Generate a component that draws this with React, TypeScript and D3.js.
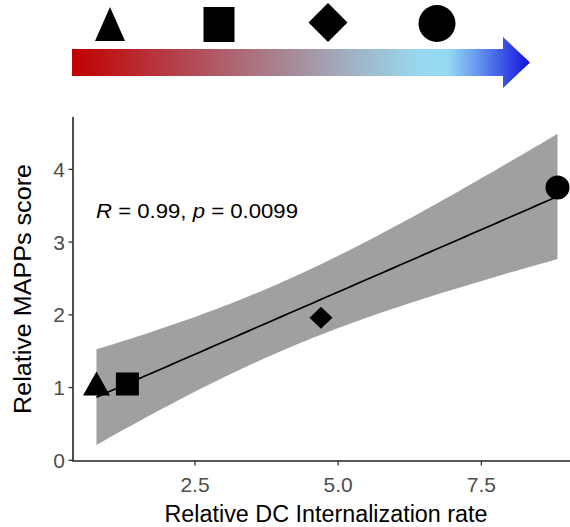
import React from "react";
import * as d3 from "d3";

// ---- data ----
const shapes = ["triangle", "square", "diamond", "circle"];
const dcRate = [0.78, 1.32, 4.7, 8.83];
const mappsScore = [1.0, 1.05, 1.96, 3.75];
const xTicks = [2.5, 5.0, 7.5];
const yTicks = [0, 1, 2, 3, 4];
const rValue = "0.99";
const pValue = "0.0099";
const xTitle = "Relative DC Internalization rate";
const yTitle = "Relative MAPPs score";
const T_975_DF2 = 4.302653; // t quantile, 95% CI with n-2 = 2 df

const W = 570;
const H = 527;
const FONT = "'Liberation Sans', Arial, Helvetica, sans-serif";

function shapePath(kind: string, cx: number, cy: number, w: number, h: number) {
  if (kind === "triangle") {
    return `M${cx},${cy - h * (2 / 3)}L${cx + w / 2},${cy + h / 3}L${cx - w / 2},${cy + h / 3}Z`;
  }
  if (kind === "square") {
    return `M${cx - w / 2},${cy - h / 2}h${w}v${h}h${-w}Z`;
  }
  if (kind === "diamond") {
    return `M${cx},${cy - h / 2}L${cx + w / 2},${cy}L${cx},${cy + h / 2}L${cx - w / 2},${cy}Z`;
  }
  const r = w / 2;
  return `M${cx - r},${cy}a${r},${r} 0 1,0 ${2 * r},0a${r},${r} 0 1,0 ${-2 * r},0Z`;
}

export default function App() {
  // panel
  const left = 73, right = 581, top = 117, bottom = 461;
  const x = d3.scaleLinear().domain([0.37, 9.24]).range([left, right]);
  const y = d3.scaleLinear().domain([-0.01, 4.72]).range([bottom, top]);

  // linear fit + 95% CI (as geom_smooth(method = "lm"))
  const n = dcRate.length;
  const mx = d3.mean(dcRate) as number;
  const my = d3.mean(mappsScore) as number;
  const sxx = d3.sum(dcRate, (v) => (v - mx) ** 2);
  const sxy = d3.sum(dcRate, (v, i) => (v - mx) * (mappsScore[i] - my));
  const slope = sxy / sxx;
  const intercept = my - slope * mx;
  const sse = d3.sum(dcRate, (v, i) => (mappsScore[i] - (intercept + slope * v)) ** 2);
  const s = Math.sqrt(sse / (n - 2));
  const [x0, x1] = d3.extent(dcRate) as [number, number];
  const grid = d3.range(80).map((i) => x0 + ((x1 - x0) * i) / 79);
  const fit = grid.map((gx) => {
    const yh = intercept + slope * gx;
    const se = s * Math.sqrt(1 / n + (gx - mx) ** 2 / sxx);
    return { gx, yh, lo: yh - T_975_DF2 * se, hi: yh + T_975_DF2 * se };
  });
  const ribbon = d3
    .area<any>()
    .x((d) => x(d.gx))
    .y0((d) => y(d.lo))
    .y1((d) => y(d.hi))(fit);
  const line = d3
    .line<any>()
    .x((d) => x(d.gx))
    .y((d) => y(d.yh))(fit);

  // top gradient arrow
  const arrowX0 = 72, arrowX1 = 503, arrowTip = 530;
  const bodyTop = 49, bodyBot = 76, headTop = 37, headBot = 88;
  const arrowMid = (bodyTop + bodyBot) / 2;
  const iconX = d3.scalePoint<string>().domain(shapes).range([110, 437]);
  const iconDims: Record<string, [number, number]> = {
    triangle: [30, 34],
    square: [31, 35],
    diamond: [39, 39],
    circle: [37, 37],
  };
  const iconCy: Record<string, number> = { triangle: 29.7, square: 24.5, diamond: 22.5, circle: 23.5 };

  const markerDims: Record<string, [number, number]> = {
    triangle: [27, 24],
    square: [23, 23],
    diamond: [23, 22],
    circle: [24, 24],
  };

  return (
    <svg width={W} height={H} style={{ position: "absolute", left: 0, top: 0, background: "#fff" }} fontFamily={FONT}>
      <defs>
        <linearGradient id="arrowGrad" gradientUnits="userSpaceOnUse" x1={arrowX0} x2={arrowTip} y1={0} y2={0}>
          <stop offset="0" stopColor="#c20000" />
          <stop offset="0.26" stopColor="#b34a55" />
          <stop offset="0.5" stopColor="#a6909f" />
          <stop offset="0.62" stopColor="#a0b4c6" />
          <stop offset="0.76" stopColor="#98d8f0" />
          <stop offset="0.82" stopColor="#96daf2" />
          <stop offset="0.88" stopColor="#6a9cee" />
          <stop offset="1" stopColor="#1010dd" />
        </linearGradient>
      </defs>
      <rect x={0} y={0} width={W} height={H} fill="#fff" />

      {/* arrow */}
      <path
        d={`M${arrowX0},${bodyTop}H${arrowX1}V${headTop}L${arrowTip},${arrowMid}L${arrowX1},${headBot}V${bodyBot}H${arrowX0}Z`}
        fill="url(#arrowGrad)"
      />
      {shapes.map((k) => (
        <path key={k} d={shapePath(k, iconX(k) as number, iconCy[k], iconDims[k][0], iconDims[k][1])} fill="#000" />
      ))}

      {/* ribbon + fit line */}
      <path d={ribbon as string} fill="#a0a0a0" />
      <path d={line as string} fill="none" stroke="#000" strokeWidth={1.7} />

      {/* points */}
      {shapes.map((k, i) => {
        const cx = x(dcRate[i]);
        const cy = y(mappsScore[i]);
        const [w, h] = markerDims[k];
        let d;
        if (k === "triangle") {
          const r = h / 1.5;
          d = `M${cx},${cy - r}L${cx + w / 2},${cy + r / 2}L${cx - w / 2},${cy + r / 2}Z`;
        } else d = shapePath(k, cx, cy, w, h);
        return <path key={k} d={d} fill="#000" />;
      })}

      {/* axes */}
      <line x1={left} x2={left} y1={top} y2={bottom} stroke="#222" strokeWidth={1.6} />
      <line x1={left - 0.8} x2={W} y1={bottom} y2={bottom} stroke="#222" strokeWidth={1.6} />
      {yTicks.map((t) => (
        <g key={t}>
          <line x1={left - 4.5} x2={left} y1={y(t)} y2={y(t)} stroke="#333" strokeWidth={1.3} />
          <text x={left - 8} y={y(t)} dy="0.36em" textAnchor="end" fontSize={21} fill="#4d4d4d">
            {t}
          </text>
        </g>
      ))}
      {xTicks.map((t) => (
        <g key={t}>
          <line x1={x(t)} x2={x(t)} y1={bottom} y2={bottom + 4.5} stroke="#333" strokeWidth={1.3} />
          <text x={x(t)} y={bottom + 31} textAnchor="middle" fontSize={21} fill="#4d4d4d">
            {d3.format(".1f")(t)}
          </text>
        </g>
      ))}

      {/* titles */}
      <text x={326} y={522} textAnchor="middle" fontSize={23} fill="#000" textLength={323} lengthAdjust="spacingAndGlyphs">
        {xTitle}
      </text>
      <text
        transform={`translate(31,${(top + bottom) / 2}) rotate(-90)`}
        textAnchor="middle"
        fontSize={23}
        fill="#000"
        textLength={250}
        lengthAdjust="spacingAndGlyphs"
      >
        {yTitle}
      </text>

      {/* annotation */}
      <text x={96} y={218} fontSize={21} fill="#000" textLength={202} lengthAdjust="spacingAndGlyphs">
        <tspan fontStyle="italic">R</tspan>
        {` = ${rValue}, `}
        <tspan fontStyle="italic">p</tspan>
        {` = ${pValue}`}
      </text>
    </svg>
  );
}
